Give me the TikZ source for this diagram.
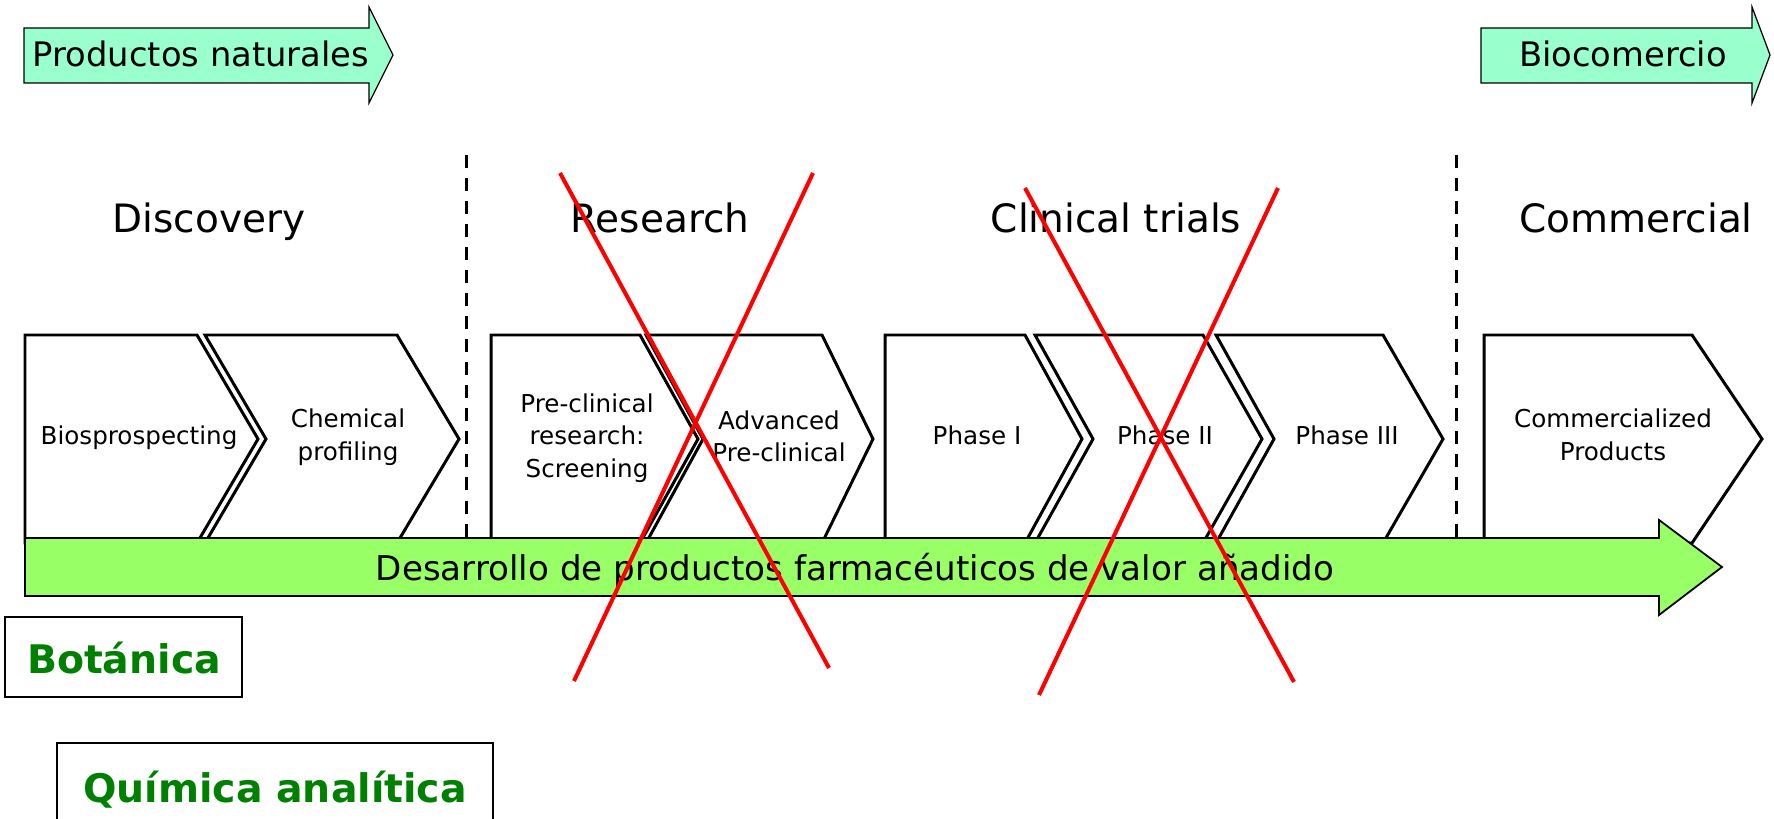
\documentclass[tikz,border=0pt]{standalone}
\usepackage{fontspec}
\setmainfont{DejaVu Sans}
\definecolor{mint}{RGB}{153,255,204}
\definecolor{barg}{RGB}{153,255,102}
\definecolor{tgreen}{RGB}{0,128,0}
\begin{document}
\begin{tikzpicture}[x=0.01cm,y=-0.01cm,
  chev/.style={draw=black,line width=0.85pt,fill=white,line join=miter},
  ctext/.style={font=\fontsize{7pt}{9.1pt}\selectfont,align=center,anchor=base,inner sep=0pt},
  head/.style={font=\fontsize{11.1pt}{13pt}\selectfont,anchor=base,inner sep=0pt},
  toparrow/.style={draw=black,line width=0.35pt,fill=mint},
  toptext/.style={font=\fontsize{9.6pt}{11pt}\selectfont,anchor=base,inner sep=0pt},
  divider/.style={draw=black,line width=0.85pt,dash pattern=on 3.7pt off 2.85pt},
  cross/.style={draw=red,line width=1.15pt},
  discbox/.style={draw=black,line width=0.6pt},
  disctext/.style={font=\fontsize{11.2pt}{13pt}\selectfont\bfseries,text=tgreen,anchor=base,inner sep=0pt}]
\useasboundingbox (0,0) rectangle (1774,819);

% top arrows
\path[toparrow] (24,28)--(369,28)--(369,7)--(393,55)--(369,103)--(369,83)--(24,83)--cycle;
\node[toptext] (pn) at (201,67) {Productos naturales};
\path[toparrow] (1481,28)--(1752,28)--(1752,7)--(1770,55)--(1752,103)--(1752,83)--(1481,83)--cycle;
\node[toptext] (bc) at (1623,67) {Biocomercio};

% headings
\node[head] (disc) at (209,233) {Discovery};
\node[head] (res) at (660,233) {Research};
\node[head] (clin) at (1116,233) {Clinical trials};
\node[head] (comm) at (1636,233) {Commercial};

% dividers
\coordinate (d1t) at (466,155); \coordinate (d1b) at (466,538);
\coordinate (d2t) at (1456,155); \coordinate (d2b) at (1456,538);
\draw[divider] (d1t) -- (d1b);
\draw[divider] (d2t) -- (d2b);

% chevrons
\path[chev] (25,335)--(197,335)--(258,439)--(197,543)--(25,543)--cycle;
\path[chev] (205,335)--(397,335)--(459,439)--(397,543)--(205,543)--(266,439)--cycle;
\path[chev] (491,335)--(640,335)--(698,439)--(640,543)--(491,543)--cycle;
\path[chev] (646,335)--(822,335)--(873,439)--(822,543)--(646,543)--(703,439)--cycle;
\path[chev] (885,335)--(1025,335)--(1082,439)--(1025,543)--(885,543)--cycle;
\path[chev] (1035,335)--(1203,335)--(1262,439)--(1203,543)--(1035,543)--(1093,439)--cycle;
\path[chev] (1216,335)--(1383,335)--(1443,439)--(1383,543)--(1216,543)--(1274,439)--cycle;
\path[chev] (1484,335)--(1692,335)--(1762,439)--(1692,543)--(1484,543)--cycle;

\node[ctext] (bio) at (139,445) {Biosprospecting};
\node[ctext] (chem) at (348,460) {Chemical\\profiling};
\node[ctext] (pre) at (587,477) {Pre-clinical\\research:\\Screening};
\node[ctext] (adv) at (779,462) {Advanced\\Pre-clinical};
\node[ctext] (p1) at (977,445) {Phase I};
\node[ctext] (p2) at (1165,445) {Phase II};
\node[ctext] (p3) at (1347,445) {Phase III};
\node[ctext] (cp) at (1613,460) {Commercialized\\Products};

% big green arrow
\path[draw=black,line width=0.5pt,fill=barg] (25,538)--(1659,538)--(1659,520)--(1722,567)--(1659,615)--(1659,596)--(25,596)--cycle;
\node[font=\fontsize{9.7pt}{11pt}\selectfont,anchor=base,inner sep=0pt] (bar) at (855,580) {Desarrollo de productos farmacéuticos de valor añadido};

% discipline boxes
\draw[discbox] (5,617) rectangle (242,697);
\node[disctext] (bot) at (124,673) {Botánica};
\draw[discbox] (57,743) rectangle (493,840);
\node[disctext] (qa) at (275,802) {Química analítica};

% red crosses
\coordinate (xa1) at (560,173); \coordinate (xa2) at (829,668);
\coordinate (xb1) at (813,173); \coordinate (xb2) at (574,681);
\coordinate (ya1) at (1025,188); \coordinate (ya2) at (1294,682);
\coordinate (yb1) at (1278,188); \coordinate (yb2) at (1039,695);
\draw[cross] (xa1) -- (xa2);
\draw[cross] (xb1) -- (xb2);
\draw[cross] (ya1) -- (ya2);
\draw[cross] (yb1) -- (yb2);
\end{tikzpicture}
\end{document}
